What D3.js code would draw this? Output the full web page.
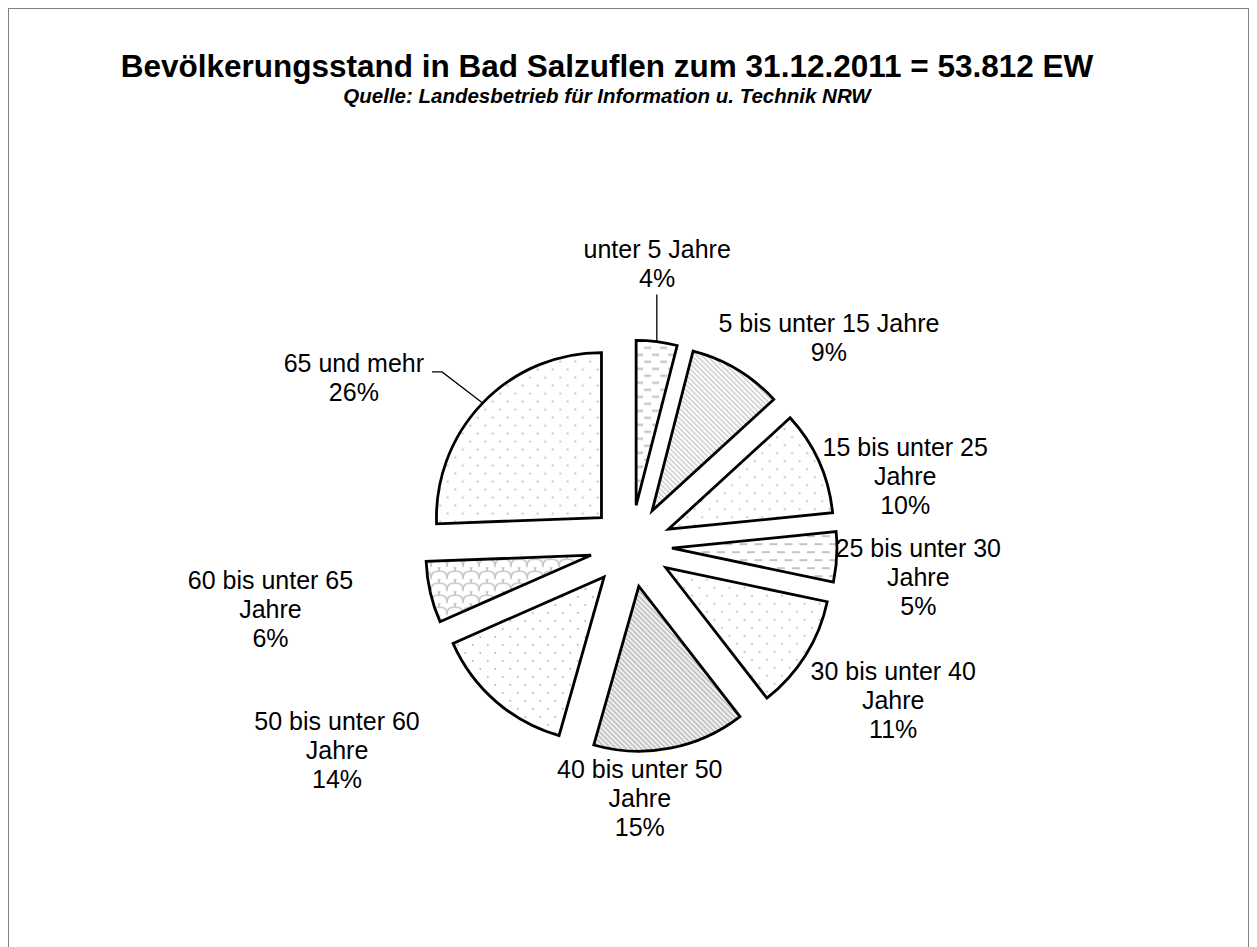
<!DOCTYPE html>
<html>
<head>
<meta charset="utf-8">
<script src="https://cdn.jsdelivr.net/npm/d3@7"></script>
<style>
  body { margin: 0; background: #fff; }
  svg { display: block; font-family: "Liberation Sans", Arial, sans-serif; }
</style>
</head>
<body>
<svg id="chart" width="1257" height="947"></svg>
<script>
var groups = ["unter 5 Jahre", "5 bis unter 15 Jahre", "15 bis unter 25 Jahre",
              "25 bis unter 30 Jahre", "30 bis unter 40 Jahre", "40 bis unter 50 Jahre",
              "50 bis unter 60 Jahre", "60 bis unter 65 Jahre", "65 und mehr"];
var shares = [4.0, 9.2, 10.2, 4.9, 11.2, 14.9, 14.0, 6.0, 25.6];
var labelLines = [["unter 5 Jahre"], ["5 bis unter 15 Jahre"], ["15 bis unter 25", "Jahre"],
                  ["25 bis unter 30", "Jahre"], ["30 bis unter 40", "Jahre"], ["40 bis unter 50", "Jahre"],
                  ["50 bis unter 60", "Jahre"], ["60 bis unter 65", "Jahre"], ["65 und mehr"]];

// layout: fill pattern per slice, label placement (angle deg, radius from centre), leader flag
var fills = ["dashH", "diagLight", "dots", "dashWide", "dots", "diagWide", "dots", "shingle", "dots"];
var labelAt = [[5.3, 283], [43.6, 287], [75.7, 283], [96.2, 289], [120.4, 304],
               [178, 252], [235.2, 358], [260.1, 366], [301.2, 324]];
var leader = [true, false, false, false, false, false, false, false, true];

var svg = d3.select("#chart");
var cx = 631, cy = 546, r = 165, explode = 41, lineH = 29;

svg.append("rect")
  .attr("x", 8.5).attr("y", 8.5)
  .attr("width", 1240).attr("height", 980)
  .attr("fill", "none")
  .attr("stroke", "#808080");

svg.append("text")
  .attr("x", 607).attr("y", 77)
  .attr("text-anchor", "middle")
  .attr("font-size", 31.5).attr("font-weight", "bold")
  .text("Bevölkerungsstand in Bad Salzuflen zum 31.12.2011 = 53.812 EW");

svg.append("text")
  .attr("x", 607).attr("y", 103)
  .attr("text-anchor", "middle")
  .attr("font-size", 20.5).attr("font-weight", "bold").attr("font-style", "italic")
  .text("Quelle: Landesbetrieb für Information u. Technik NRW");

// patterns
var defs = svg.append("defs");
function pattern(id, w, h) {
  var p = defs.append("pattern")
    .attr("id", id)
    .attr("patternUnits", "userSpaceOnUse")
    .attr("width", w).attr("height", h);
  p.append("rect").attr("width", w).attr("height", h).attr("fill", "#fff");
  return p;
}

pattern("dashH", 16, 14).append("path")
  .attr("d", "M0,3.5H7M8,10.5H15")
  .attr("stroke", "#bdbdbd").attr("stroke-width", 1.8);

pattern("dashWide", 15, 16).append("path")
  .attr("d", "M0,4H8M7.5,12H15.5M-7.5,12H0.5")
  .attr("stroke", "#c4c4c4").attr("stroke-width", 2);

pattern("diagLight", 5, 5).append("path")
  .attr("d", "M-1,-1L6,6M-1,4L1,6M4,-1L6,1")
  .attr("stroke", "#c8c8c8").attr("stroke-width", 1.4);

pattern("diagWide", 5, 5).append("path")
  .attr("d", "M-1,-1L6,6M-1,4L1,6M4,-1L6,1")
  .attr("stroke", "#c0c0c0").attr("stroke-width", 2);

var dots = pattern("dots", 15, 16);
dots.append("circle").attr("cx", 3.75).attr("cy", 4).attr("r", 0.9).attr("fill", "#b0b0b0");
dots.append("circle").attr("cx", 11.25).attr("cy", 12).attr("r", 0.9).attr("fill", "#b0b0b0");

pattern("shingle", 16, 12).append("path")
  .attr("d", "M0,12C0,5 3,4 8,4C13,4 16,5 16,12M8,4C8,-2 11,-2 16,-2M8,4C8,-2 5,-2 0,-2")
  .attr("fill", "none")
  .attr("stroke", "#c4c4c4").attr("stroke-width", 1.5);

// pie
var pie = d3.pie().sort(null).value(function(d) { return d; });
var arc = d3.arc().innerRadius(0).outerRadius(r);
var arcs = pie(shares);

function unit(a) { return [Math.sin(a), -Math.cos(a)]; }

var g = svg.append("g").attr("transform", "translate(" + cx + "," + cy + ")");

g.selectAll("path.slice")
  .data(arcs)
  .enter().append("path")
  .attr("class", "slice")
  .attr("transform", function(d) {
    var u = unit((d.startAngle + d.endAngle) / 2);
    return "translate(" + (u[0] * explode) + "," + (u[1] * explode) + ")";
  })
  .attr("d", arc)
  .attr("fill", function(d, i) { return "url(#" + fills[i] + ")"; })
  .attr("stroke", "#000")
  .attr("stroke-width", 2.8)
  .attr("stroke-linejoin", "miter");

// labels
var total = d3.sum(shares);
var labels = g.selectAll("g.label")
  .data(arcs)
  .enter().append("g")
  .attr("class", "label")
  .attr("transform", function(d, i) {
    var u = unit(labelAt[i][0] * Math.PI / 180);
    return "translate(" + (u[0] * labelAt[i][1]) + "," + (u[1] * labelAt[i][1]) + ")";
  });

labels.each(function(d, i) {
  var lines = labelLines[i].concat([Math.round(d.value / total * 100) + "%"]);
  var t = d3.select(this).append("text")
    .attr("text-anchor", "middle")
    .attr("font-size", 25);
  lines.forEach(function(s, k) {
    t.append("tspan")
      .attr("x", 0)
      .attr("y", (k - (lines.length - 1) / 2) * lineH)
      .attr("dy", "0.35em")
      .text(s);
  });
});

// leader lines
labels.each(function(d, i) {
  if (!leader[i]) return;
  var box = this.getBBox();
  var pos = unit(labelAt[i][0] * Math.PI / 180);
  var lx = pos[0] * labelAt[i][1], ly = pos[1] * labelAt[i][1];
  var a = (d.startAngle + d.endAngle) / 2, u = unit(a);
  var sx = u[0] * (r + explode), sy = u[1] * (r + explode);
  var pts;
  if (sx > lx + box.x && sx < lx + box.x + box.width) {
    pts = [[sx, sy], [sx, ly + box.y + box.height + 2]];
  } else {
    var edge = sx < lx ? lx + box.x - 8 : lx + box.x + box.width + 8;
    var side = sx < lx ? -1 : 1;
    var ey = ly + box.y + lineH * 0.5 + 8;
    pts = [[sx, sy], [edge + side * 10, ey], [edge, ey]];
  }
  g.append("path")
    .attr("d", d3.line()(pts))
    .attr("fill", "none")
    .attr("stroke", "#000")
    .attr("stroke-width", 1.3);
});
</script>
</body>
</html>
